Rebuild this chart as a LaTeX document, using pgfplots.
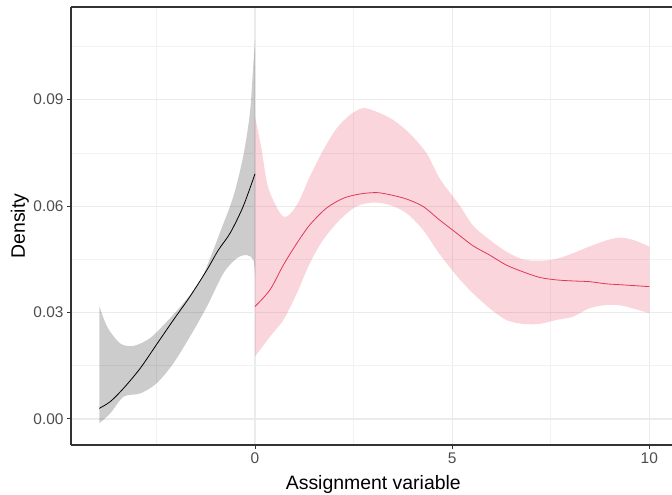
\documentclass[border=0pt]{standalone}
\usepackage{fontspec}
\setmainfont{Liberation Sans}
\usepackage{pgfplots}
\pgfplotsset{compat=1.18}
\usepgfplotslibrary{fillbetween}
\definecolor{bandred}{RGB}{230,50,80}
\definecolor{linered}{RGB}{225,55,85}
\definecolor{gridmaj}{RGB}{235,235,235}
\definecolor{gridmin}{RGB}{242,242,242}
\definecolor{tickgray}{RGB}{77,77,77}
\definecolor{framegray}{RGB}{51,51,51}

\begin{document}
\begin{tikzpicture}
\begin{axis}[
    at={(0,0)}, anchor=south west,
    scale only axis, width=601bp, height=438bp,
    xmin=-4.667, xmax=10.576, ymin=-0.00733, ymax=0.1161,
    axis x line=box, axis y line=left,
    axis line style={-, draw=framegray, line width=1.1bp},
    xtick={0,5,10}, ytick={0,0.03,0.06,0.09},
    minor xtick={-2.5,2.5,7.5}, minor ytick={0.015,0.045,0.075,0.105},
    grid=both,
    major grid style={gridmaj, line width=1.1bp},
    minor grid style={gridmin, line width=0.6bp},
    tick align=outside, major tick length=4bp, minor tick length=0pt,
    tick style={framegray, line width=1bp},
    xtick pos=left, ytick pos=left,
    scaled y ticks=false,
    yticklabel style={/pgf/number format/fixed, /pgf/number format/fixed zerofill, /pgf/number format/precision=2},
    /pgf/number format/assume math mode=true,
    tick label style={font=\fontsize{15.5}{16}\selectfont, text=tickgray},
    xlabel={Assignment variable}, ylabel={Density},
    label style={font=\fontsize{19.5}{20}\selectfont},
    xlabel style={at={(axis description cs:0.503,-0.089)}, anchor=center},
    ylabel style={at={(axis description cs:-0.085,0.5)}, anchor=center},
]
% right of the cutoff: band edges
\addplot[name path=ru, draw=none, smooth, tension=0.5] coordinates {
    (0,0.0852) (0.17,0.0758) (0.34,0.0650) (0.72,0.0570) (1.06,0.0603) (1.39,0.0683)
    (1.73,0.0758) (2.07,0.0819) (2.41,0.0857) (2.74,0.0876) (3.08,0.0866) (3.50,0.0843)
    (3.92,0.0805) (4.35,0.0749) (4.70,0.0675) (5.17,0.0605) (5.53,0.0545) (5.95,0.0505)
    (6.37,0.0472) (6.79,0.0450) (7.22,0.0446) (7.64,0.0451) (8.06,0.0467) (8.48,0.0486)
    (8.90,0.0503) (9.24,0.0511) (9.58,0.0505) (10,0.0486)
};
\addplot[name path=rl, draw=none, smooth, tension=0.5] coordinates {
    (0,0.0176) (0.38,0.0232) (0.72,0.0279) (1.06,0.0354) (1.39,0.0439) (1.73,0.0505)
    (2.15,0.0561) (2.57,0.0599) (3.0,0.0610) (3.42,0.0603) (3.84,0.0580) (4.26,0.0533)
    (4.68,0.0465) (5.15,0.0399) (5.53,0.0354) (5.95,0.0312) (6.37,0.0279) (6.79,0.0268)
    (7.22,0.0268) (7.64,0.0279) (8.06,0.0288) (8.48,0.0312) (8.90,0.0321) (9.32,0.0319)
    (10,0.0298)
};
\addplot[bandred, fill opacity=0.2] fill between[of=ru and rl];
% left of the cutoff: band edges
\addplot[name path=lu, draw=none, smooth, tension=0.5] coordinates {
    (-3.95,0.0319) (-3.75,0.0260) (-3.42,0.0213) (-3.08,0.0206) (-2.66,0.0228) (-2.24,0.0274)
    (-1.82,0.0326) (-1.39,0.0390) (-1.15,0.0450) (-0.89,0.0525) (-0.55,0.0627) (-0.30,0.0740)
    (-0.13,0.0862) (-0.04,0.1003) (0,0.1068)
};
\addplot[name path=ll, draw=none, smooth, tension=0.5] coordinates {
    (-3.95,-0.0012) (-3.67,0.0016) (-3.33,0.0063) (-2.91,0.0072) (-2.49,0.0101) (-2.07,0.0157)
    (-1.65,0.0232) (-1.22,0.0317) (-0.80,0.0411) (-0.46,0.0453) (-0.21,0.0462) (-0.04,0.0448)
    (0,0.0400)
};
\addplot[black, fill opacity=0.2] fill between[of=lu and ll];
\addplot[linered, line width=0.8bp, smooth, tension=0.5] coordinates {
    (0,0.0317) (0.38,0.0364) (0.72,0.0434) (1.06,0.0495) (1.39,0.0547) (1.81,0.0594)
    (2.24,0.0622) (2.66,0.0634) (3.08,0.0638) (3.42,0.0632) (3.84,0.0620) (4.26,0.0599)
    (4.68,0.0561) (5.11,0.0524) (5.53,0.0488) (5.95,0.0462) (6.37,0.0434) (6.79,0.0415)
    (7.22,0.0399) (7.64,0.0392) (8.06,0.0389) (8.48,0.0387) (8.90,0.0381) (9.32,0.0378)
    (10,0.0373)
};
\addplot[black, line width=0.8bp, smooth, tension=0.5] coordinates {
    (-3.95,0.0030) (-3.67,0.0049) (-3.33,0.0087) (-2.91,0.0143) (-2.49,0.0211) (-2.07,0.0279)
    (-1.65,0.0345) (-1.22,0.0420) (-0.93,0.0476) (-0.63,0.0524) (-0.30,0.0599) (0,0.0691)
};
\end{axis}
\pgfresetboundingbox
\useasboundingbox (-71bp,-50bp) rectangle (601bp,445bp);
\end{tikzpicture}
\end{document}
